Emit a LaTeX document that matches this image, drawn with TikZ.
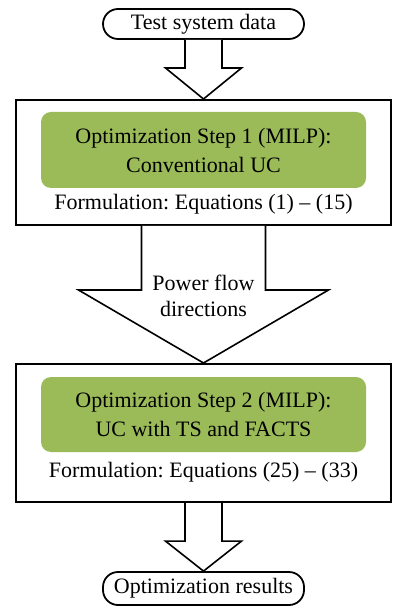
\documentclass[tikz,border=0pt]{standalone}
\usepackage{fontspec}
\setmainfont{Liberation Serif}
\usetikzlibrary{calc}
\frenchspacing

\definecolor{olivegreen}{HTML}{9BBB59}

% hollow block arrow: start, tip, shaft half width, head half width, head length
\newcommand{\blockarrow}[5]{%
  \draw[arrowline] ($(#1)+(-#3,0)$) -- ($(#2)+(-#3,-#5)$) -- ($(#2)+(-#4,-#5)$) -- (#2)
    -- ($(#2)+(#4,-#5)$) -- ($(#2)+(#3,-#5)$) -- ($(#1)+(#3,0)$);}

\begin{document}
\begin{tikzpicture}[x=0.5pt, y=-0.5pt,
    every node/.style={font=\fontsize{11}{14.5}\selectfont},
    terminal/.style={draw, line width=0.9pt, rounded corners=7.5pt, minimum width=100.5pt, minimum height=15pt, inner sep=0pt},
    stepbox/.style={draw, line width=1pt, minimum width=187.5pt, inner sep=0pt},
    solver/.style={fill=olivegreen, rounded corners=5pt, minimum width=162.5pt, align=center, inner sep=0pt},
    arrowline/.style={draw, fill=white, line width=0.8pt, line join=miter}]
  \useasboundingbox (0,0) rectangle (407,608);

  \node [terminal] (data) at (203.5,24) {Test system data};

  \node [stepbox, minimum height=62.5pt] (step1) at (203.5,162.5) {};
  \node [solver, minimum height=38pt] (milp1) at (203.5,150) {Optimization Step 1 (MILP):\\Conventional UC};
  \node (form1) at (203.5,204) {Formulation: Equations (1) -- (15)};

  \node [stepbox, minimum height=69pt] (step2) at (203.5,433) {};
  \node [solver, minimum height=37.5pt] (milp2) at (203.5,414.5) {Optimization Step 2 (MILP):\\UC with TS and FACTS};
  \node (form2) at (203.5,472) {Formulation: Equations (25) -- (33)};

  \node [terminal, minimum height=16.5pt] (results) at (203.5,588.5) {Optimization results};

  \blockarrow{data.south}{step1.north}{18.5}{38}{31}
  \blockarrow{step1.south}{step2.north}{62}{125}{73}
  \blockarrow{step2.south}{results.north}{18.5}{38}{30}

  \node [align=center, font=\fontsize{11}{13}\selectfont] (flow) at (203.5,296) {Power flow\\directions};
\end{tikzpicture}
\end{document}
